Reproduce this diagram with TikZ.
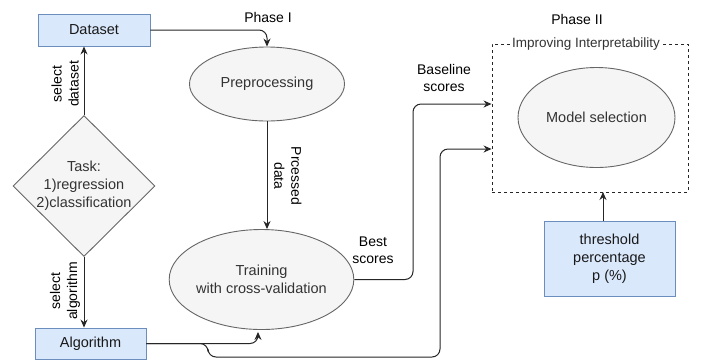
\documentclass[tikz,border=0pt]{standalone}
\usepackage{fontspec}
\setmainfont{Liberation Sans}
\usetikzlibrary{shapes.geometric,arrows.meta}
\definecolor{bluefill}{HTML}{DAE8FC}
\definecolor{blueline}{HTML}{6C8EBF}
\definecolor{grayfill}{HTML}{F5F5F5}
\definecolor{grayline}{HTML}{666666}
\definecolor{graytext}{HTML}{333333}
\begin{document}
\begin{tikzpicture}[x=1pt,y=-1pt,
  every node/.style={font=\fontsize{14.5}{18}\selectfont},
  bluebox/.style={rectangle,draw=blueline,fill=bluefill,line width=0.9pt,inner sep=0pt,align=center,text=black!90},
  grayell/.style={ellipse,draw=grayline,fill=grayfill,line width=0.9pt,inner sep=0pt,align=center,text=graytext},
  conn/.style={line width=1pt,draw=black!85,-{Stealth[length=8pt,width=7pt]},rounded corners=8pt},
  lbl/.style={font=\fontsize{14}{17}\selectfont,align=center,inner sep=0pt}]
\useasboundingbox (0,0) rectangle (701,360);
\fill[white] (0,0) rectangle (701,360);

% nodes
\node[bluebox,minimum width=112pt,minimum height=32pt] (dataset) at (94,30) {Dataset};
\node[grayell,minimum width=155pt,minimum height=74pt] (prep) at (267,84) {Preprocessing};
\node[diamond,draw=grayline,fill=grayfill,line width=0.9pt,minimum width=142pt,minimum height=141pt,inner sep=0pt] (task) at (84,186) {};
\node[align=center,text=graytext,inner sep=0pt] (tasktxt) at (84,186) {Task:\\1)regression\\2)classification};
\node[grayell,minimum width=157pt,minimum height=100pt] (train) at (261.5,279.5) {Training\\with cross-validation};
\node[bluebox,minimum width=111pt,minimum height=31pt] (alg) at (90.5,343.5) {Algorithm};

\node[rectangle,draw=black!85,line width=0.9pt,dash pattern=on 3pt off 3pt,minimum width=196pt,minimum height=148pt,inner sep=0pt] (ibox) at (590,118) {};
\node[fill=white,inner sep=1pt,font=\fontsize{13.5}{16}\selectfont,text=graytext] (iboxlbl) at (586,44) {Improving Interpretability};
\node[grayell,minimum width=157pt,minimum height=100pt] (model) at (596.5,117.5) {Model selection};
\node[bluebox,minimum width=131pt,minimum height=75pt] (thr) at (609.5,258.5) {threshold\\percentage\\p (\%)};

% labels
\node[lbl] (ph1) at (268,17) {Phase I};
\node[lbl] (ph2) at (577,19) {Phase II};
\node[lbl,rotate=90] (selds) at (65,84) {select\\dataset};
\node[lbl,rotate=90] (selalg) at (65,291) {select\\algorithm};
\node[lbl,rotate=-90] (procd) at (288,176) {Prcessed\\data};
\node[lbl] (best) at (373,250) {Best\\scores};
\node[lbl] (base) at (444,78) {Baseline\\scores};

% coordinates
\coordinate (a1) at (208,343.5);
\coordinate (a2) at (208,357);
\coordinate (a3) at (440,357);
\coordinate (a4) at (440,149);
\coordinate (b1) at (413,279.5);
\coordinate (b2) at (413,104);
\coordinate (t1) at (603,221);
\coordinate (t2) at (603,192);

% connectors
\draw[conn] (dataset.east) -| (prep.north);
\draw[conn] (task.north) -- (task.north |- dataset.south);
\draw[conn] (task.south) -- (task.south |- alg.north);
\draw[conn] (prep.south) -- (prep.south |- train.north);
\draw[conn] (alg.east) -| ([xshift=-3.5pt,yshift=-2pt]train.south);
\draw[conn] (alg.east) -- (a1) -- (a2) -- (a3) -- (a4) -- (a4 -| ibox.west);
\draw[conn] (train.east) -- (b1) -- (b2) -- (b2 -| ibox.west);
\draw[conn] (t1) -- (t2);
\end{tikzpicture}
\end{document}
